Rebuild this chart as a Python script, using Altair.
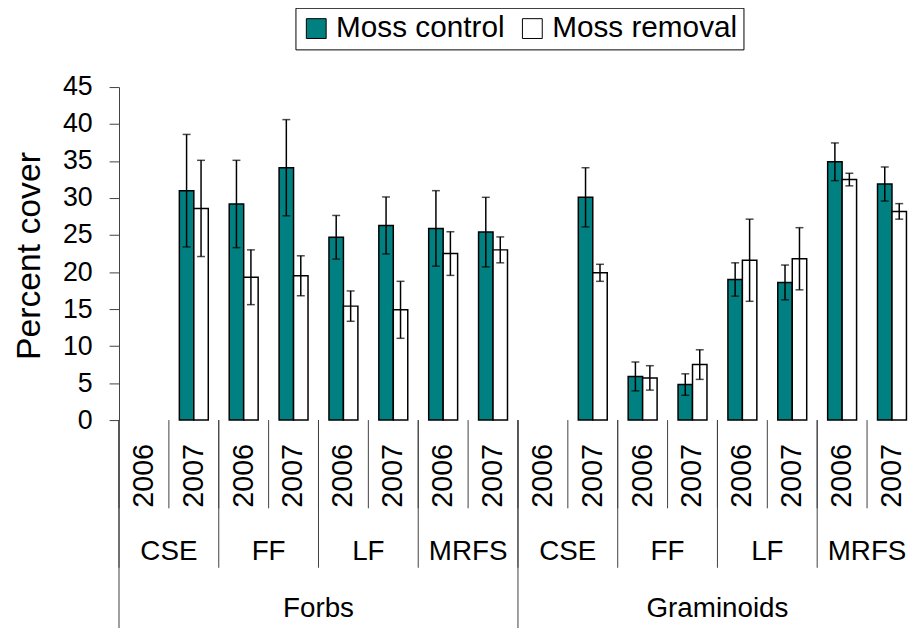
import altair as alt
import pandas as pd

FONT = "Liberation Sans"

groups = ["Forbs"] * 8 + ["Graminoids"] * 8
sites = ["CSE", "CSE", "FF", "FF", "LF", "LF", "MRFS", "MRFS"] * 2
years = ["2006", "2007"] * 8

treatments = ["Moss control", "Moss removal"]
control_mean = [None, 31.0, 29.2, 34.1, 24.7, 26.3, 25.9, 25.4,
                None, 30.1, 5.9, 4.8, 19.0, 18.6, 34.9, 31.9]
control_err = [None, 7.6, 5.9, 6.5, 2.95, 3.85, 5.1, 4.7,
               None, 4.0, 1.95, 1.45, 2.25, 2.35, 2.55, 2.3]
removal_mean = [None, 28.6, 19.3, 19.5, 15.4, 14.9, 22.5, 23.0,
                None, 19.9, 5.7, 7.5, 21.6, 21.8, 32.5, 28.2]
removal_err = [None, 6.5, 3.7, 2.7, 2.05, 3.85, 2.95, 1.75,
               None, 1.15, 1.65, 2.0, 5.55, 4.2, 0.85, 1.05]
y_ticks = [0, 5, 10, 15, 20, 25, 30, 35, 40, 45]

keys = [f"{g}|{s}|{y}" for g, s, y in zip(groups, sites, years)]

cats = pd.DataFrame({"key": keys, "group": groups, "site": sites, "year": years,
                     "idx": list(range(len(keys)))})

rows = []
for k, cm, ce, rm, re_ in zip(keys, control_mean, control_err, removal_mean, removal_err):
    if cm is not None:
        rows.append({"key": k, "treatment": treatments[0], "mean": cm, "lo": cm - ce, "hi": cm + ce})
    if rm is not None:
        rows.append({"key": k, "treatment": treatments[1], "mean": rm, "lo": rm - re_, "hi": rm + re_})
bars = pd.DataFrame(rows)

PLOT_H = 336
x_scale = alt.Scale(domain=keys, paddingInner=0, paddingOuter=0)
off_scale = alt.Scale(domain=treatments, paddingInner=0, paddingOuter=0.724)
y_scale = alt.Scale(domain=[0, 45], nice=False, zero=True)


def xenc(band=None, axis=False):
    kw = {}
    if band is not None:
        kw["bandPosition"] = band
    if axis:
        kw["axis"] = alt.Axis(labels=False, ticks=False, title=None, domainColor="black",
                              domainWidth=1.5, grid=False)
    else:
        kw["axis"] = None
    return alt.X("key:N", scale=x_scale, sort=keys, **kw)


yaxis = alt.Axis(values=y_ticks, title="Percent cover", titleFont=FONT, titleFontSize=34,
                 titleFontWeight="normal", titleColor="black", titleAngle=270,
                 titleX=-80, titleY=170, titleAlign="center", titleBaseline="alphabetic",
                 labelFont=FONT, labelFontSize=27, labelColor="black", labelPadding=17,
                 labelOverlap=False, labelBound=False, labelFlush=False,
                 tickSize=10, tickColor="#404040", domainColor="#404040", grid=False)


def yenc(field):
    return alt.Y(field, scale=y_scale, axis=yaxis, title="Percent cover")


bar_layer = alt.Chart(bars).mark_bar(stroke="black", strokeWidth=1.5).encode(
    x=xenc(axis=True),
    xOffset=alt.XOffset("treatment:N", scale=off_scale),
    y=yenc("mean:Q"),
    fill=alt.Fill("treatment:N", scale=alt.Scale(domain=treatments, range=["#008080", "#ffffff"]),
                  legend=alt.Legend(orient="none", legendX=178, legendY=-80, direction="horizontal",
                                    title=None, symbolType="square", symbolSize=400,
                                    symbolStrokeColor="black", symbolStrokeWidth=1,
                                    labelFont=FONT, labelFontSize=30, labelColor="black",
                                    labelLimit=400, labelOffset=5, columnPadding=12,
                                    strokeColor="black", padding=6)),
)

err_rule = alt.Chart(bars).mark_rule(color="black", strokeWidth=1.5).encode(
    x=xenc(),
    xOffset=alt.XOffset("treatment:N", scale=off_scale),
    y=yenc("lo:Q"),
    y2="hi:Q",
)
cap_hi = alt.Chart(bars).mark_tick(color="black", thickness=1.5, size=8, orient="horizontal").encode(
    x=xenc(),
    xOffset=alt.XOffset("treatment:N", scale=off_scale),
    y=yenc("hi:Q"),
)
cap_lo = alt.Chart(bars).mark_tick(color="black", thickness=1.5, size=8, orient="horizontal").encode(
    x=xenc(),
    xOffset=alt.XOffset("treatment:N", scale=off_scale),
    y=yenc("lo:Q"),
)

sep_color = "#404040"
year_sep = alt.Chart(cats).mark_rule(color=sep_color, strokeWidth=1).encode(
    x=xenc(band=0), y=alt.value(PLOT_H), y2=alt.value(PLOT_H + 89))
site_sep = alt.Chart(cats).transform_filter("datum.idx % 2 == 0").mark_rule(
    color=sep_color, strokeWidth=1).encode(
    x=xenc(band=0), y=alt.value(PLOT_H), y2=alt.value(PLOT_H + 149))
group_sep = alt.Chart(cats).transform_filter("datum.idx % 8 == 0").mark_rule(
    color=sep_color, strokeWidth=1).encode(
    x=xenc(band=0), y=alt.value(PLOT_H), y2=alt.value(PLOT_H + 220))

year_lbl = alt.Chart(cats).mark_text(angle=270, align="right", baseline="middle", font=FONT,
                                     fontSize=29, color="black").encode(
    x=xenc(band=0.5), y=alt.value(PLOT_H + 24), text="year:N")
site_lbl = alt.Chart(cats).transform_filter("datum.idx % 2 == 1").mark_text(
    align="center", baseline="alphabetic", font=FONT, fontSize=28, color="black").encode(
    x=xenc(band=0), y=alt.value(PLOT_H + 141), text="site:N")
group_lbl = alt.Chart(cats).transform_filter("datum.idx % 8 == 4").mark_text(
    align="center", baseline="alphabetic", font=FONT, fontSize=28, color="black").encode(
    x=xenc(band=0), y=alt.value(PLOT_H + 199), text="group:N")

chart = alt.layer(
    bar_layer, err_rule, cap_hi, cap_lo,
    year_sep, site_sep, group_sep, year_lbl, site_lbl, group_lbl,
).properties(
    width=805, height=PLOT_H,
    autosize=alt.AutoSizeParams(type="none"),
    padding={"left": 112, "top": 77, "right": -9, "bottom": 207},
).configure_view(stroke=None)

chart.save("out.html", embed_options={"renderer": "svg", "actions": False})
